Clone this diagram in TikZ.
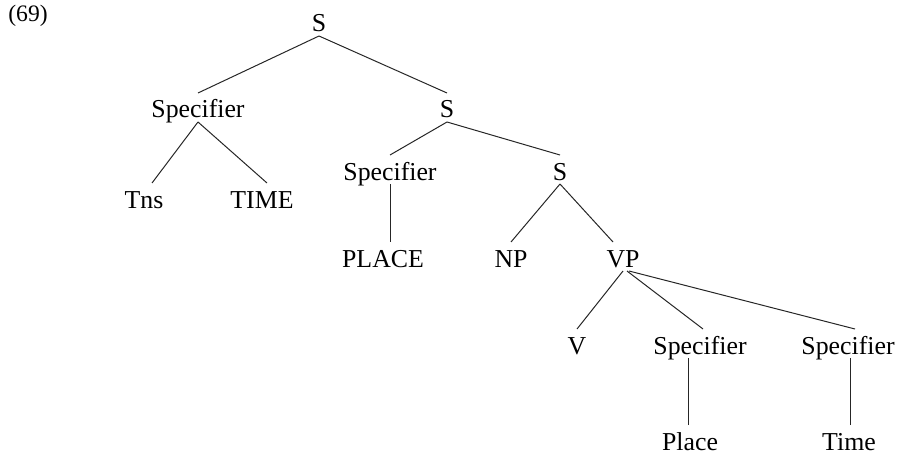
\documentclass[tikz,border=0pt]{standalone}
\usepackage{fontspec}
\setmainfont{Liberation Serif}
\begin{document}
\begin{tikzpicture}[x=0.5pt,y=-0.5pt,
  lab/.style={anchor=base,inner sep=0pt,outer sep=0pt,text height=12.5pt,text depth=2pt,font=\fontsize{12.9pt}{15pt}\selectfont},
  edge/.style={line width=0.5pt,draw=black!85}]
\useasboundingbox (0,0) rectangle (897,454);
\node[anchor=base,inner sep=0pt,font=\fontsize{11.8pt}{14pt}\selectfont] (ex) at (28,22) {(69)};
\node[lab] (s1) at (319,32) {S};
\node[lab] (spl) at (198,118) {Specifier};
\node[lab] (s2) at (447,118) {S};
\node[lab] (tns) at (144,208) {Tns};
\node[lab] (time) at (262,208) {TIME};
\node[lab] (spm) at (390,180) {Specifier};
\node[lab] (s3) at (560,180) {S};
\node[lab] (PL) at (383,267) {PLACE};
\node[lab] (np) at (511,267) {NP};
\node[lab] (vp) at (623,267) {VP};
\node[lab] (v) at (577,354) {V};
\node[lab] (sp2) at (700,354) {Specifier};
\node[lab] (sp3) at (848,354) {Specifier};
\node[lab] (pl) at (690,450) {Place};
\node[lab] (tm) at (849,450) {Time};
\draw[edge] (s1.south) -- (spl.north);
\draw[edge] (s1.south) -- (s2.north);
\draw[edge] (spl.south) -- ([xshift=4pt]tns.north);
\draw[edge] (spl.south) -- ([xshift=2.5pt]time.north);
\draw[edge] (s2.south) -- (spm.north);
\draw[edge] (s2.south) -- (s3.north);
\draw[edge] (spm.south) -- (spm.south |- PL.north);
\draw[edge] (s3.south) -- (np.north);
\draw[edge] (s3.south) -- ([xshift=-5pt]vp.north);
\draw[edge] (vp.south) -- (v.north);
\draw[edge] ([xshift=2pt]vp.south) -- ([xshift=1.5pt]sp2.north);
\draw[edge] ([xshift=3pt]vp.south) -- ([xshift=3.5pt]sp3.north);
\draw[edge] ([xshift=-1pt]pl.north) -- ([xshift=-1pt]pl.north |- sp2.south);
\draw[edge] ([xshift=0.5pt]tm.north) -- ([xshift=0.5pt]tm.north |- sp3.south);
\end{tikzpicture}
\end{document}
